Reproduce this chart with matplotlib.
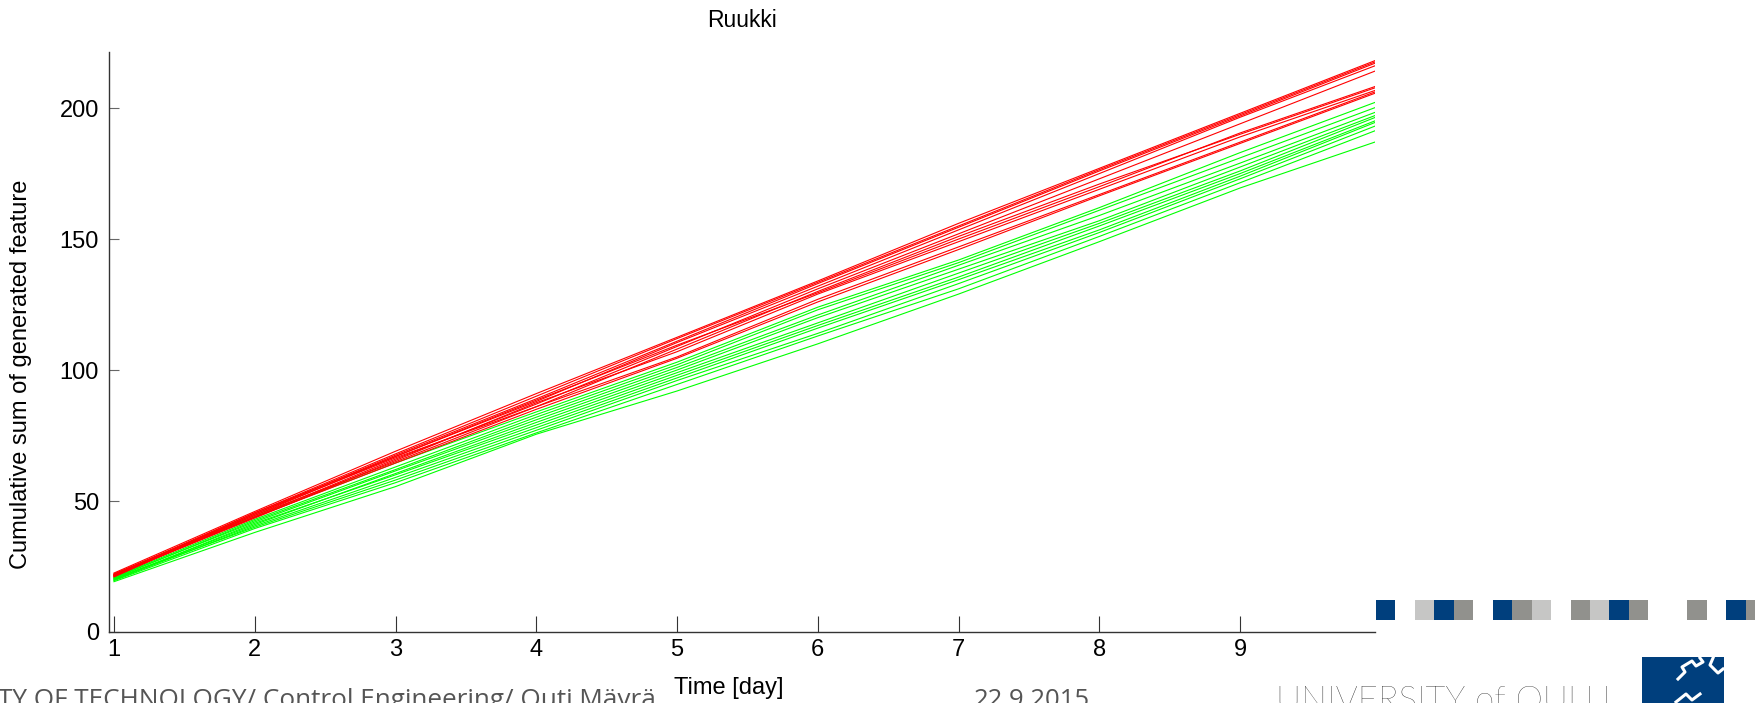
import numpy as np
import matplotlib.pyplot as plt
from matplotlib.patches import Rectangle
from matplotlib.lines import Line2D

# time axis (days) and cumulative sums
days = [1, 2, 3, 4, 5, 6, 7, 8, 9, 10]

red_runs = [
    [22.5, 46.0, 69.0, 91.0, 112.5, 134.0, 156.0, 177.0, 198.0, 219.0],
    [22.0, 45.5, 68.0, 90.0, 112.0, 133.5, 155.0, 176.5, 197.5, 218.5],
    [21.8, 45.0, 67.5, 89.0, 111.0, 133.0, 154.5, 176.0, 197.0, 218.0],
    [22.2, 44.5, 67.0, 88.0, 110.5, 132.0, 153.5, 175.0, 196.5, 217.0],
    [21.5, 44.0, 66.0, 87.0, 109.0, 131.0, 152.0, 173.0, 194.0, 215.0],
    [21.4, 45.5, 67.0, 88.5, 109.5, 129.5, 150.0, 170.0, 190.5, 209.0],
    [21.0, 45.0, 66.5, 86.0, 108.0, 130.0, 151.0, 171.0, 190.0, 208.5],
    [21.6, 43.5, 65.5, 87.5, 107.0, 129.0, 149.0, 169.0, 189.0, 207.5],
    [21.2, 44.5, 65.0, 86.0, 105.0, 127.0, 147.0, 167.0, 187.0, 207.0],
    [22.0, 43.8, 64.5, 85.0, 104.5, 126.0, 146.0, 166.5, 186.5, 206.5],
]

green_runs = [
    [21.5, 44.0, 64.5, 84.0, 103.0, 124.0, 142.0, 162.0, 183.0, 203.0],
    [21.0, 43.0, 63.0, 83.0, 102.0, 123.0, 141.0, 161.0, 181.0, 201.0],
    [20.5, 42.5, 62.0, 82.0, 101.0, 121.0, 140.0, 159.0, 179.0, 199.2],
    [20.8, 42.0, 61.5, 81.0, 100.0, 120.0, 138.5, 157.0, 177.5, 198.0],
    [20.2, 41.0, 60.5, 80.0, 99.0, 118.0, 137.0, 156.0, 176.0, 197.3],
    [20.0, 41.5, 60.0, 79.0, 98.0, 117.0, 135.5, 155.0, 175.0, 196.0],
    [19.8, 40.5, 59.0, 78.0, 97.0, 116.0, 134.5, 153.5, 174.0, 195.4],
    [20.4, 40.0, 58.0, 77.0, 96.0, 114.0, 133.0, 152.5, 173.0, 194.0],
    [19.6, 39.5, 57.0, 76.0, 94.5, 113.0, 131.0, 151.0, 171.5, 192.2],
    [19.2, 38.0, 55.5, 75.5, 92.0, 110.0, 129.0, 149.0, 169.5, 187.8],
]

x_ticks = [1, 2, 3, 4, 5, 6, 7, 8, 9]
y_ticks = [0, 50, 100, 150, 200]

W, H = 1755, 703
plt.rcParams['font.family'] = ['Liberation Sans', 'DejaVu Sans']

fig = plt.figure(figsize=(W / 100, H / 100), dpi=100)
ax = fig.add_axes([108.6 / W, 71 / H, 1266 / W, 580 / H])

for run in green_runs:
    ax.plot(days, run, color='#00ff00', lw=0.8)
for run in red_runs:
    ax.plot(days, run, color='#ff0000', lw=0.8)

ax.set_xlim(0.962, 9.955)
ax.set_ylim(0, 221.4)
ax.set_xticks(x_ticks)
ax.set_yticks(y_ticks)
ax.spines['top'].set_visible(False)
ax.spines['right'].set_visible(False)
for s in ('left', 'bottom'):
    ax.spines[s].set_color('#333333')
    ax.spines[s].set_linewidth(1.0)
ax.tick_params(axis='x', direction='in', length=11.3, width=0.8,
               color='#333333', labelsize=17, pad=5)
ax.tick_params(axis='y', direction='in', length=7.2, width=0.8,
               color='#666666', labelsize=17, pad=7)

ax.set_title("Ruukki", fontsize=16.5, pad=18)
ax.set_ylabel("Cumulative sum of generated feature", fontsize=17, va='center')
ax.yaxis.set_label_coords(-0.0695, 0.445)
ax.set_xlabel("Time [day]", fontsize=17, va='center')
ax.xaxis.set_label_coords(0.49, -0.097)


def fx(x):
    return x / W


def fy(y):
    return 1 - y / H


# slide footer (cut off at the bottom edge, as on the slide)
fig.text(fx(-2), fy(707), "TY OF TECHNOLOGY/ Control Engineering/ Outi Mäyrä",
         family=['Open Sans', 'DejaVu Sans'], fontsize=18.8, color='#555555',
         ha='left', va='baseline')
fig.text(fx(974), fy(707), "22.9.2015", family=['Open Sans', 'DejaVu Sans'],
         fontsize=18.5, color='#555555', ha='left', va='baseline')
fig.text(fx(1276), fy(711), "UNIVERSITY of OULU", family=['Lato', 'DejaVu Sans'],
         fontweight='light', fontsize=25, color='#111111', ha='left', va='baseline')

# decorative squares row
sq_slots = [0, 2, 3, 4, 6, 7, 8, 10, 11, 12, 13, 16, 18, 19]
sq_cols = ['#003f7d', '#c6c6c5', '#003f7d', '#91918d', '#003f7d', '#91918d',
           '#c6c6c5', '#91918d', '#c6c6c5', '#003f7d', '#91918d', '#91918d',
           '#003f7d', '#91918d']
step = 19.45
for slot, c in zip(sq_slots, sq_cols):
    x0 = 1376 + slot * step
    fig.patches.append(Rectangle((fx(x0), fy(620)), step / W, 20 / H,
                                 transform=fig.transFigure, color=c, lw=0))

# logo block
fig.patches.append(Rectangle((fx(1642), fy(703)), 81.5 / W, 46 / H,
                             transform=fig.transFigure, color='#003f7d', lw=0))
logo_paths = [
    [(1678, 679), (1685, 672), (1682, 667), (1692, 661), (1696, 666), (1703, 662), (1700, 658)],
    [(1713, 658), (1710, 665), (1718, 673), (1723, 669)],
    [(1676, 702), (1686, 694), (1692, 700), (1700, 694)],
]
for pts in logo_paths:
    xs = [fx(p[0]) for p in pts]
    ys = [fy(p[1]) for p in pts]
    fig.lines.append(Line2D(xs, ys, transform=fig.transFigure, color='white', lw=2.2))

fig.savefig('out.png', dpi=100)
